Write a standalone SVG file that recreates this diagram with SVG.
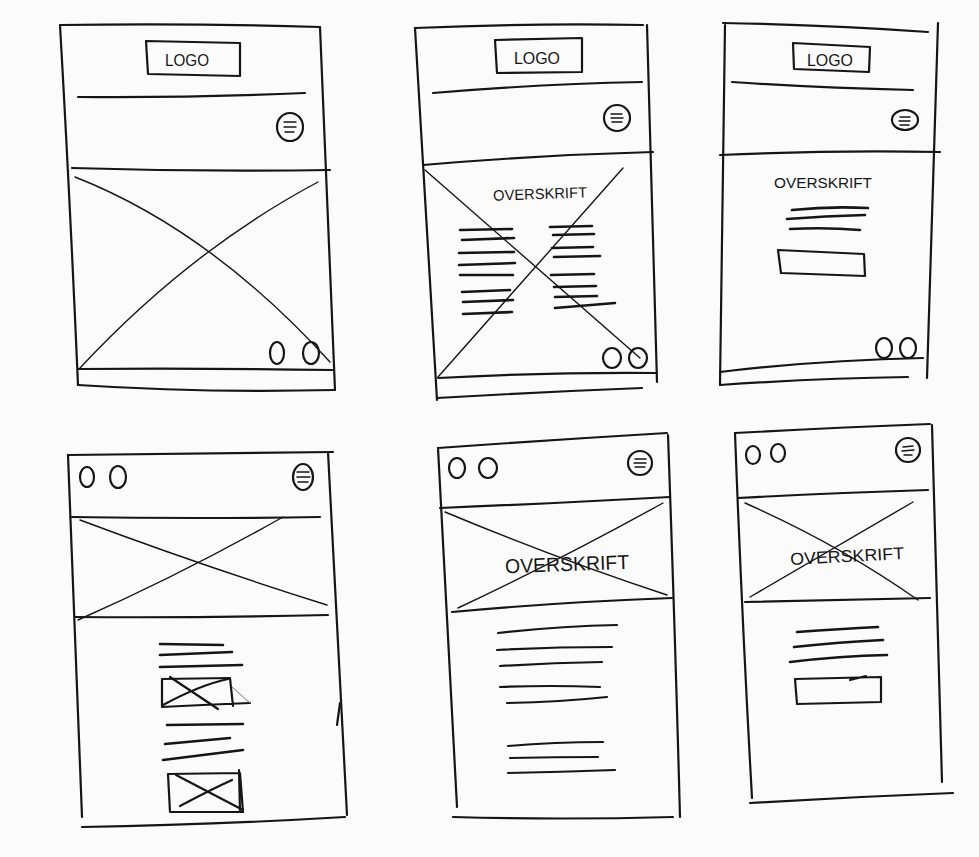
<svg xmlns="http://www.w3.org/2000/svg" width="979" height="857" viewBox="0 0 979 857">
<style>
.s{fill:none;stroke:#151515;stroke-width:2.2;stroke-linecap:round;stroke-linejoin:round}
.t{fill:none;stroke:#151515;stroke-width:1.4;stroke-linecap:round}
.f{fill:none;stroke:#777;stroke-width:1;stroke-linecap:round}
.b{fill:none;stroke:#151515;stroke-width:2.6;stroke-linecap:round}
.tx{font-family:"Liberation Sans","DejaVu Sans",sans-serif;fill:#151515;text-anchor:middle}
</style>
<rect width="979" height="857" fill="#fbfbfb"/>

<g id="sketch1">
<path class="s" d="M60,25 Q190,23 320,27"/>
<path class="s" d="M60,25 Q70,200 78,385"/>
<path class="s" d="M320,27 Q328,210 335,390"/>
<path class="s" d="M78,385 Q200,393 335,390"/>
<path class="s" d="M78,369 Q200,368 333,370"/>
<path class="s" d="M146,41 L240,43 L240,76 L148,74 Z"/>
<text class="tx" x="187" y="66" font-size="17" textLength="44" lengthAdjust="spacingAndGlyphs">LOGO</text>
<path class="s" d="M78,97 Q190,98 305,93"/>
<ellipse class="s" cx="290" cy="127" rx="13" ry="14"/>
<path class="t" d="M284,122 L296,122 M284,127 L296,127 M285,132 L294,132"/>
<path class="s" d="M72,168 Q200,172 330,170"/>
<path class="t" d="M75,177 Q210,230 330,362"/>
<path class="t" d="M318,182 Q190,250 80,368"/>
<ellipse class="s" cx="277" cy="353" rx="7" ry="11"/>
<ellipse class="s" cx="311" cy="353" rx="8" ry="11"/>
</g>

<g id="sketch2">
<path class="s" d="M415,28 Q530,23 643,25"/>
<path class="s" d="M415,28 Q425,210 437,400"/>
<path class="s" d="M647,25 Q652,200 657,382"/>
<path class="s" d="M437,398 Q540,392 642,388"/>
<path class="s" d="M438,378 Q550,372 657,373"/>
<path class="s" d="M495,40 L582,38 L582,72 L497,73 Z"/>
<text class="tx" x="537" y="64" font-size="16" textLength="46" lengthAdjust="spacingAndGlyphs">LOGO</text>
<path class="s" d="M433,93 Q540,84 642,82"/>
<circle class="s" cx="617" cy="118" r="13"/>
<path class="t" d="M611,114 L622,114 M611,118 L623,118 M612,122 L622,122"/>
<path class="s" d="M423,165 Q540,155 653,152"/>
<path class="t" d="M425,170 L640,358"/>
<path class="t" d="M623,168 L438,377"/>
<text class="tx" x="540" y="199" font-size="15" textLength="94" lengthAdjust="spacingAndGlyphs" transform="rotate(-2 540 193)">OVERSKRIFT</text>
<path class="b" d="M460,230 L512,229 M462,240 L514,238 M459,253 L514,252 M459,265 L515,263 M460,275 L513,275 M462,292 L510,290 M463,302 L513,300 M463,314 L512,312"/>
<path class="b" d="M550,227 L592,226 M553,235 L594,234 M552,248 L593,247 M554,257 L600,256 M551,275 L594,274 M554,287 L596,286 M555,297 L597,296 M555,308 L615,303"/>
<ellipse class="s" cx="612" cy="358" rx="9" ry="10"/>
<ellipse class="s" cx="638" cy="358" rx="9" ry="10"/>
</g>

<g id="sketch3">
<path class="s" d="M723,23 Q830,25 928,32"/>
<path class="s" d="M725,25 Q722,200 720,385"/>
<path class="s" d="M938,23 Q932,200 927,378"/>
<path class="s" d="M720,385 Q820,378 908,377"/>
<path class="s" d="M720,372 Q820,360 923,358"/>
<path class="s" d="M793,43 L870,47 L869,72 L794,69 Z"/>
<text class="tx" x="830" y="66" font-size="16" textLength="46" lengthAdjust="spacingAndGlyphs">LOGO</text>
<path class="s" d="M732,82 Q820,88 913,90"/>
<ellipse class="s" cx="905" cy="120" rx="13" ry="10"/>
<path class="t" d="M900,117 L910,117 M899,121 L910,121 M900,125 L909,125"/>
<path class="s" d="M720,155 Q830,150 940,152"/>
<text class="tx" x="823" y="188" font-size="15" textLength="98" lengthAdjust="spacingAndGlyphs">OVERSKRIFT</text>
<path class="b" d="M792,210 Q830,206 868,208 M787,219 Q825,216 865,215 M790,229 Q825,227 860,230"/>
<path class="s" d="M778,250 L864,254 L865,276 L781,273 Z"/>
<ellipse class="s" cx="884" cy="348" rx="8" ry="10"/>
<ellipse class="s" cx="908" cy="348" rx="8" ry="10"/>
</g>

<g id="sketch4">
<path class="s" d="M68,455 Q200,453 333,452"/>
<path class="s" d="M68,455 Q75,640 82,817"/>
<path class="s" d="M328,452 Q338,640 347,815"/>
<path class="s" d="M82,827 Q210,825 345,817"/>
<path class="s" d="M340,703 L337,725"/>
<ellipse class="s" cx="87" cy="477" rx="7" ry="10"/>
<ellipse class="s" cx="118" cy="477" rx="8" ry="11"/>
<ellipse class="s" cx="303" cy="477" rx="10" ry="13"/>
<path class="t" d="M297,472 L309,472 M297,477 L310,477 M298,482 L308,482"/>
<path class="s" d="M70,517 Q200,519 320,517"/>
<path class="t" d="M80,520 Q200,565 327,605"/>
<path class="t" d="M283,517 Q180,575 78,620"/>
<path class="s" d="M75,617 Q200,618 328,615"/>
<path class="b" d="M160,644 L223,645 M160,655 L232,652 M160,667 L242,665"/>
<path class="s" d="M162,679 L230,678 L233,706 M162,679 L162,707 Q200,705 250,703"/>
<path class="f" d="M232,687 L250,703"/>
<path class="s" d="M170,677 L218,709 M163,705 Q200,685 228,679"/>
<path class="b" d="M167,725 L243,724 M165,744 L230,738 M163,760 L243,750"/>
<path class="s" d="M168,774 L240,773 L243,812 L170,812 Z M239,770 L240,812"/>
<path class="s" d="M176,775 L243,810 M180,806 Q210,790 232,780"/>
</g>

<g id="sketch5">
<path class="s" d="M438,448 Q550,440 667,433"/>
<path class="s" d="M438,448 Q448,630 457,807"/>
<path class="s" d="M668,435 Q675,630 680,817"/>
<path class="s" d="M453,817 Q560,820 673,817"/>
<ellipse class="s" cx="457" cy="468" rx="8" ry="10"/>
<ellipse class="s" cx="488" cy="468" rx="9" ry="10"/>
<ellipse class="s" cx="640" cy="463" rx="12" ry="12"/>
<path class="t" d="M635,459 L646,459 M634,463 L646,463 M635,467 L645,467"/>
<path class="s" d="M440,508 Q560,503 670,497"/>
<path class="t" d="M445,512 Q560,560 667,595"/>
<path class="t" d="M663,503 Q560,560 458,608"/>
<path class="s" d="M452,612 Q560,602 672,598"/>
<text class="tx" x="567" y="571" font-size="20" textLength="124" lengthAdjust="spacingAndGlyphs" transform="rotate(-2 567 563)">OVERSKRIFT</text>
<path class="s" d="M498,633 Q560,626 617,625 M497,650 Q555,647 612,647 M500,666 Q550,663 602,662 M500,687 Q550,685 600,687 M507,703 Q560,702 607,697"/>
<path class="s" d="M508,746 Q555,742 603,742 M510,758 Q555,757 598,757 M508,773 Q560,772 615,770"/>
</g>

<g id="sketch6">
<path class="s" d="M735,433 Q830,428 930,424"/>
<path class="s" d="M735,433 Q742,620 752,798"/>
<path class="s" d="M932,425 Q937,600 942,782"/>
<path class="s" d="M750,803 Q850,797 953,793"/>
<ellipse class="s" cx="753" cy="455" rx="7" ry="9"/>
<ellipse class="s" cx="778" cy="453" rx="7" ry="9"/>
<circle class="s" cx="908" cy="450" r="12"/>
<path class="t" d="M903,447 L913,446 M902,451 L914,450 M904,455 L912,455"/>
<path class="s" d="M738,498 Q830,493 928,490"/>
<path class="t" d="M745,503 Q840,545 918,600"/>
<path class="t" d="M913,502 Q830,550 750,597"/>
<path class="s" d="M745,602 Q840,600 930,598"/>
<text class="tx" x="847" y="562" font-size="17" textLength="114" lengthAdjust="spacingAndGlyphs" transform="rotate(-3 847 555)">OVERSKRIFT</text>
<path class="b" d="M797,632 Q840,629 878,627 M794,647 Q840,642 883,640 M790,662 Q840,656 887,655"/>
<path class="s" d="M795,679 L881,677 L881,702 L797,704 Z M850,680 L866,676"/>
</g>
</svg>
